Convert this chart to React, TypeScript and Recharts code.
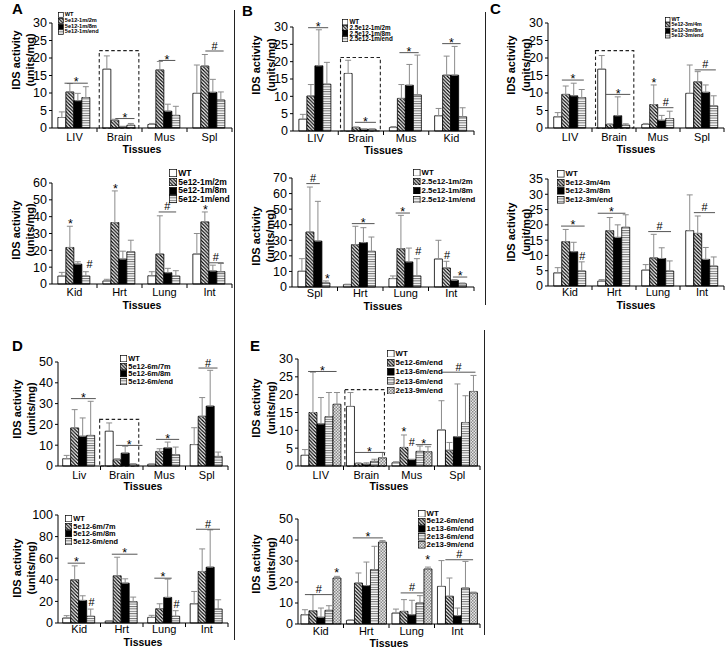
import React from 'react';
import { BarChart, Bar, XAxis, YAxis, ErrorBar, ReferenceLine, ReferenceArea, ReferenceDot, Legend } from 'recharts';

const FONT = 'Arial, "Liberation Sans", Helvetica, sans-serif';
const F_WT = '#ffffff';
const F_HATCH = 'url(#pHatch)';
const F_BLACK = '#000000';
const F_HS = 'url(#pHs)';
const F_CHK = 'url(#pChk)';
const FILLS4 = [F_WT, F_HATCH, F_BLACK, F_HS];
const FILLS5 = [F_WT, F_HATCH, F_BLACK, F_HS, F_CHK];

// ---------------- Panel A (top)
const A1_cats = ['LIV', 'Brain', 'Mus', 'Spl'];
const A1_names = ['WT', '5e12-1m/2m', '5e12-1m/8m', '5e12-1m/end'];
const A1_means = [[3.0, 16.8, 1.0, 9.9], [10.3, 2.2, 16.6, 17.7], [7.8, 0.3, 4.8, 10.2], [8.7, 0.8, 3.6, 8.0]];
const A1_errs = [[4.6, 20.6, 1.3, 18.0], [12.7, 2.5, 19.0, 21.0], [9.9, 0.5, 6.8, 13.9], [11.8, 1.3, 6.2, 10.3]];
const A1_ticks = [0, 5, 10, 15, 20, 25, 30];
const A1_sig = [[0, 0.8, 3.6, 12.8, '*', 1], [1, 1.5, 3.8, 2.7, '*', 1], [2, 1.3, 3.3, 19.3, '*', 1], [3, 1.5, 3.7, 22.0, '#', 1]];
const A1_box = [1, 0.05, 0.93, 22.1];

// ---------------- Panel A (bottom)
const A2_cats = ['Kid', 'Hrt', 'Lung', 'Int'];
const A2_names = ['WT', '5e12-1m/2m', '5e12-1m/8m', '5e12-1m/end'];
const A2_means = [[4.7, 1.8, 4.9, 17.8], [21.7, 36.5, 17.8, 36.9], [11.8, 14.8, 6.7, 7.7], [4.7, 19.1, 4.7, 7.3]];
const A2_errs = [[6.9, 2.8, 7.3, 30.0], [34.3, 55.3, 40.5, 42.8], [13.2, 19.5, 9.3, 11.2], [7.3, 26.0, 7.9, 12.2]];
const A2_ticks = [0, 10, 20, 30, 40, 50, 60];
const A2_sig = [[0, 1.5, 1.5, 35, '*', 0], [0, 3.8, 3.8, 8.4, '#', 0], [1, 1.5, 1.5, 56, '*', 0], [2, 1.3, 3.4, 42.8, '#', 1], [3, 1.5, 1.5, 43.5, '*', 0], [3, 1.8, 3.7, 12.6, '#', 1]];

// ---------------- Panel B (top)
const B1_cats = ['LIV', 'Brain', 'Mus', 'Kid'];
const B1_names = ['WT', '2.5e12-1m/2m', '2.5e12-1m/8m', '2.5e12-1m/end'];
const B1_means = [[3.4, 16.6, 1.0, 4.4], [10.1, 1.0, 9.4, 16.1], [18.8, 0.5, 13.2, 16.1], [13.5, 0.5, 10.4, 4.1]];
const B1_errs = [[4.8, 20.4, 1.3, 6.5], [13.4, 1.2, 13.4, 21.6], [29.2, 0.6, 19.2, 24.4], [19.8, 0.6, 21.9, 6.7]];
const B1_ticks = [0, 5, 10, 15, 20, 25, 30];
const B1_sig = [[0, 1.1, 3.5, 29.8, '*', 1], [1, 1.3, 3.8, 2.5, '*', 1], [2, 1.2, 3.5, 22.6, '*', 1], [3, 0.9, 3.1, 25.2, '*', 1]];
const B1_box = [1, 0.05, 0.93, 21.2];

// ---------------- Panel B (bottom)
const B2_cats = ['Spl', 'Hrt', 'Lung', 'Int'];
const B2_names = ['WT', '2.5e12-1m/2m', '2.5e12-1m/8m', '2.5e12-1m/end'];
const B2_means = [[10.1, 1.5, 5.4, 18.0], [35.3, 27.2, 24.6, 12.2], [29.5, 28.5, 16.1, 4.3], [2.6, 22.9, 7.1, 2.1]];
const B2_errs = [[18.2, 1.8, 7.1, 30.0], [64.2, 39.0, 46.0, 16.5], [55.0, 38.1, 25.0, 4.7], [3.9, 32.1, 18.2, 2.6]];
const B2_ticks = [0, 10, 20, 30, 40, 50, 60, 70];
const B2_sig = [[0, 1.0, 2.6, 66.4, '#', 1], [0, 3.5, 3.5, 4.9, '*', 0], [1, 1.0, 3.7, 40.7, '*', 1], [2, 0.8, 2.5, 47.5, '*', 1], [2, 3.5, 3.5, 19.5, '#', 0], [3, 1.5, 1.5, 16.8, '#', 0], [3, 2.2, 3.9, 6.4, '*', 1]];

// ---------------- Panel C (top)
const C1_cats = ['LIV', 'Brain', 'Mus', 'Spl'];
const C1_names = ['WT', '5e12-3m/4m', '5e12-3m/8m', '5e12-3m/end'];
const C1_means = [[3.2, 16.8, 1.0, 9.9], [9.6, 1.0, 6.7, 13.2], [9.2, 3.5, 2.2, 10.2], [8.7, 0.8, 2.7, 6.3]];
const C1_errs = [[4.4, 20.7, 1.3, 18.0], [12.0, 1.2, 12.3, 16.1], [12.8, 8.9, 3.6, 12.3], [11.0, 1.2, 4.8, 9.2]];
const C1_ticks = [0, 5, 10, 15, 20, 25, 30];
const C1_sig = [[0, 1.0, 3.7, 13.7, '*', 1], [1, 1.0, 4.0, 9.6, '*', 1], [2, 1.5, 1.5, 12.5, '*', 0], [2, 2.0, 3.9, 5.8, '#', 1], [3, 1.1, 3.7, 16.6, '#', 1]];
const C1_box = [1, 0.08, 0.95, 22.1];

// ---------------- Panel C (bottom)
const C2_cats = ['Kid', 'Hrt', 'Lung', 'Int'];
const C2_names = ['WT', '5e12-3m/4m', '5e12-3m/8m', '5e12-3m/end'];
const C2_means = [[4.3, 1.6, 5.2, 18.1], [14.5, 18.1, 9.2, 17.2], [11.2, 15.9, 9.0, 8.7], [4.9, 19.2, 4.9, 6.5]];
const C2_errs = [[6.0, 2.1, 7.0, 29.8], [18.5, 22.4, 16.9, 22.9], [14.3, 20.0, 12.5, 12.6], [7.9, 23.3, 8.2, 9.5]];
const C2_ticks = [0, 5, 10, 15, 20, 25, 30, 35];
const C2_sig = [[0, 0.9, 3.8, 19.6, '*', 1], [0, 3.5, 3.5, 8.1, '#', 0], [1, 0.0, 3.4, 23.8, '*', 1], [2, 0.8, 3.6, 17.8, '#', 1], [3, 1.0, 3.6, 24.0, '#', 1]];

// ---------------- Panel D (top)
const D1_cats = ['Liv', 'Brain', 'Mus', 'Spl'];
const D1_names = ['WT', '5e12-6m/7m', '5e12-6m/8m', '5e12-6m/end'];
const D1_means = [[3.5, 16.7, 0.8, 10.3], [18.3, 3.0, 7.0, 23.9], [14.3, 6.2, 8.7, 28.8], [14.7, 0.8, 5.4, 4.6]];
const D1_errs = [[5.1, 20.7, 1.0, 18.4], [27.1, 3.5, 8.3, 32.9], [23.1, 9.5, 11.5, 46.0], [31.1, 1.1, 9.1, 6.7]];
const D1_ticks = [0, 10, 20, 30, 40, 50];
const D1_sig = [[0, 1.0, 4.0, 32.4, '*', 1], [1, 1.3, 4.5, 9.9, '*', 1], [2, 1.0, 3.8, 12.8, '*', 1], [3, 1.0, 3.3, 47.1, '#', 1]];
const D1_box = [1, -0.02, 0.9, 22.4];

// ---------------- Panel D (bottom)
const D2_cats = ['Kid', 'Hrt', 'Lung', 'Int'];
const D2_names = ['WT', '5e12-6m/7m', '5e12-6m/8m', '5e12-6m/end'];
const D2_means = [[4.6, 1.8, 5.2, 17.8], [40.0, 43.7, 13.2, 47.7], [20.9, 36.9, 23.7, 51.7], [6.2, 19.7, 6.2, 12.9]];
const D2_errs = [[6.8, 2.2, 7.1, 29.2], [52.9, 60.9, 17.8, 68.6], [25.2, 40.9, 40.6, 86.2], [12.9, 24.0, 11.4, 21.5]];
const D2_ticks = [0, 20, 40, 60, 80, 100];
const D2_sig = [[0, 0.6, 2.7, 55.4, '*', 1], [0, 3.5, 3.5, 14, '#', 0], [1, 0.8, 3.9, 63.7, '*', 1], [2, 0.8, 2.9, 41.5, '*', 1], [2, 3.5, 3.5, 12.5, '#', 0], [3, 0.7, 3.6, 86.8, '#', 1]];

// ---------------- Panel E (top)
const E1_cats = ['LIV', 'Brain', 'Mus', 'Spl'];
const E1_names = ['WT', '5e12-6m/end', '1e13-6m/end', '2e13-6m/end', '2e13-9m/end'];
const E1_means = [[3.0, 16.7, 0.9, 10.1], [15.0, 0.7, 5.2, 4.4], [11.8, 0.5, 1.8, 8.2], [13.8, 1.3, 4.1, 12.2], [17.3, 2.3, 4.0, 20.9]];
const E1_errs = [[4.6, 20.6, 1.2, 18.3], [26.3, 0.9, 8.7, 6.6], [19.2, 0.9, 1.9, 23.0], [20.6, 1.9, 5.6, 19.7], [20.6, 3.8, 5.4, 25.4]];
const E1_ticks = [0, 5, 10, 15, 20, 25, 30];
const E1_sig = [[0, 0.9, 4.5, 26.5, '*', 1], [1, 1.0, 4.8, 3.8, '*', 1], [2, 1.5, 1.5, 9.2, '*', 0], [2, 2.5, 2.5, 5.2, '#', 0], [2, 3.0, 5.0, 6.0, '*', 1], [3, 0.5, 4.8, 26.3, '#', 1]];
const E1_box = [1, 0.03, 0.9, 21.4];

// ---------------- Panel E (bottom)
const E2_cats = ['Kid', 'Hrt', 'Lung', 'Int'];
const E2_names = ['WT', '5e12-6m/end', '1e13-6m/end', '2e13-6m/end', '2e13-9m/end'];
const E2_means = [[4.4, 1.7, 5.2, 17.9], [6.3, 19.5, 6.0, 13.2], [3.2, 18.3, 4.4, 4.0], [6.5, 25.9, 10.0, 17.1], [21.9, 39.0, 26.2, 14.8]];
const E2_errs = [[6.8, 2.0, 7.1, 30.2], [14.0, 24.3, 11.6, 21.9], [7.6, 29.5, 11.3, 7.6], [8.7, 37.0, 13.5, 29.8], [22.7, 39.7, 27.1, 15.2]];
const E2_ticks = [0, 10, 20, 30, 40, 50];
const E2_sig = [[0, 0.5, 4.0, 14, '#', 1], [0, 4.5, 4.5, 24, '*', 0], [1, 0.8, 4.6, 41, '*', 1], [2, 1.1, 4.0, 14.8, '#', 1], [2, 4.5, 4.5, 30, '*', 0], [3, 1.0, 4.5, 30.6, '#', 1]];

const UNITS = '(units/mg)';
const UNIT = '(unit/mg)';

const PANELS: any[] = [
  { cats: A1_cats, names: A1_names, means: A1_means, errs: A1_errs, ticks: A1_ticks, sig: A1_sig, box: A1_box, fills: FILLS4, gap: 0.13,
    left: 0, top: 0, w: 234, h: 155, x0: 52, x1: 232, y0: 23, y1: 128, tickDy: 9, tissDy: 20.5,
    leg: { x: 58, y: 12, fs: 5.6, lh: 5.8 }, yl: { x: 19.5, cy: 60, gap: 14, unit: UNITS } },
  { cats: A2_cats, names: A2_names, means: A2_means, errs: A2_errs, ticks: A2_ticks, sig: A2_sig, box: null, fills: FILLS4, gap: 0.13,
    left: 0, top: 158, w: 234, h: 152, x0: 52, x1: 232, y0: 183, y1: 284, tickDy: 8, tissDy: 20.5,
    leg: { x: 169, y: 169, fs: 8.5, lh: 8.7 }, yl: { x: 20, cy: 230, gap: 14, unit: UNITS } },
  { cats: B1_cats, names: B1_names, means: B1_means, errs: B1_errs, ticks: B1_ticks, sig: B1_sig, box: B1_box, fills: FILLS4, gap: 0.13,
    left: 238, top: 0, w: 238, h: 155, x0: 293, x1: 474, y0: 27, y1: 131, tickDy: 7, tissDy: 18.5,
    leg: { x: 342, y: 19, fs: 6.3, lh: 5.8 }, yl: { x: 259.5, cy: 65, gap: 15, unit: UNITS } },
  { cats: B2_cats, names: B2_names, means: B2_means, errs: B2_errs, ticks: B2_ticks, sig: B2_sig, box: null, fills: FILLS4, gap: 0.13,
    left: 238, top: 158, w: 238, h: 152, x0: 292, x1: 474, y0: 178, y1: 287, tickDy: 5.5, tissDy: 18.5,
    leg: { x: 413, y: 168, fs: 7.8, lh: 9 }, yl: { x: 259.5, cy: 236, gap: 14, unit: UNITS } },
  { cats: C1_cats, names: C1_names, means: C1_means, errs: C1_errs, ticks: C1_ticks, sig: C1_sig, box: C1_box, fills: FILLS4, gap: 0.13,
    left: 488, top: 0, w: 238, h: 155, x0: 548, x1: 724, y0: 23, y1: 128, tickDy: 9, tissDy: 21,
    leg: { x: 665, y: 16.5, fs: 5.3, lh: 5.6 }, yl: { x: 514.5, cy: 65, gap: 15, unit: UNITS } },
  { cats: C2_cats, names: C2_names, means: C2_means, errs: C2_errs, ticks: C2_ticks, sig: C2_sig, box: null, fills: FILLS4, gap: 0.13,
    left: 488, top: 158, w: 238, h: 152, x0: 548, x1: 724, y0: 179, y1: 286, tickDy: 6, tissDy: 19,
    leg: { x: 557, y: 170, fs: 7.8, lh: 8.5 }, yl: { x: 514.5, cy: 232, gap: 15, unit: UNIT } },
  { cats: D1_cats, names: D1_names, means: D1_means, errs: D1_errs, ticks: D1_ticks, sig: D1_sig, box: D1_box, fills: FILLS4, gap: 0.11,
    left: 0, top: 330, w: 234, h: 166, x0: 58, x1: 228, y0: 362, y1: 466, tickDy: 8.5, tissDy: 20,
    leg: { x: 120, y: 355, fs: 7.4, lh: 7.6 }, yl: { x: 21, cy: 409, gap: 13.5, unit: UNITS } },
  { cats: D2_cats, names: D2_names, means: D2_means, errs: D2_errs, ticks: D2_ticks, sig: D2_sig, box: null, fills: FILLS4, gap: 0.11,
    left: 0, top: 498, w: 234, h: 150, x0: 58, x1: 228, y0: 515, y1: 623, tickDy: 6, tissDy: 18.5,
    leg: { x: 65, y: 515, fs: 7.4, lh: 7.6 }, yl: { x: 21, cy: 568, gap: 13.5, unit: UNITS } },
  { cats: E1_cats, names: E1_names, means: E1_means, errs: E1_errs, ticks: E1_ticks, sig: E1_sig, box: E1_box, fills: FILLS5, gap: 0.065,
    left: 238, top: 330, w: 246, h: 166, x0: 298, x1: 480, y0: 359, y1: 466, tickDy: 8.5, tissDy: 20,
    leg: { x: 387, y: 349, fs: 7.8, lh: 9.2 }, yl: { x: 260, cy: 408, gap: 14.5, unit: UNITS } },
  { cats: E2_cats, names: E2_names, means: E2_means, errs: E2_errs, ticks: E2_ticks, sig: E2_sig, box: null, fills: FILLS5, gap: 0.065,
    left: 238, top: 498, w: 246, h: 150, x0: 298, x1: 480, y0: 519, y1: 624, tickDy: 6.5, tissDy: 18.5,
    leg: { x: 418, y: 509.5, fs: 7.8, lh: 7.9 }, yl: { x: 260, cy: 564, gap: 14.5, unit: UNITS } },
];

const LETTERS = [
  { t: 'A', x: 12, y: 1 }, { t: 'B', x: 242, y: 3 }, { t: 'C', x: 490, y: 1 },
  { t: 'D', x: 12, y: 338 }, { t: 'E', x: 250, y: 338 },
];

function CatTick(p: any) {
  const { x, y, payload, band, dy } = p;
  return (
    <g>
      <text x={x} y={y + dy} textAnchor="middle" dominantBaseline="central" fontSize={11} fontFamily={FONT} fill="#000">{payload.value}</text>
      <line x1={x + band / 2} x2={x + band / 2} y1={y} y2={y + 4} stroke="#000" strokeWidth={1} />
    </g>
  );
}

function Panel({ cfg }: { cfg: any }) {
  const n = cfg.names.length;
  const nc = cfg.cats.length;
  const gap = cfg.gap;
  const data = cfg.cats.map((c: string, i: number) => {
    const row: any = { cat: c, idx: i + 0.5 };
    cfg.means.forEach((m: number[], s: number) => {
      row['v' + s] = m[i];
      row['e' + s] = [0, Math.max(0, cfg.errs[s][i] - m[i])];
    });
    return row;
  });
  const sx = (c: number, s: number) => c + gap + (s * (1 - 2 * gap)) / n;
  const mTop = cfg.y0 - cfg.top;
  const mRight = cfg.left + cfg.w - cfg.x1;
  const yw = cfg.x0 - cfg.left;
  const xh = cfg.top + cfg.h - cfg.y1;
  const band = (cfg.x1 - cfg.x0) / nc;
  const ymax = cfg.ticks[cfg.ticks.length - 1];
  const ylx = cfg.yl.x - cfg.left;
  const ycy = cfg.yl.cy - cfg.top;

  const legendContent = (props: any) => {
    const items = [...(props.payload || [])].sort(
      (a: any, b: any) => cfg.names.indexOf(a.value) - cfg.names.indexOf(b.value)
    );
    const sq = Math.round(cfg.leg.fs * 0.85 * 10) / 10;
    return (
      <div style={{ fontFamily: FONT, fontWeight: 'bold', fontSize: cfg.leg.fs, lineHeight: cfg.leg.lh + 'px', color: '#000' }}>
        {items.map((it: any, i: number) => (
          <div key={i} style={{ display: 'flex', alignItems: 'center', height: cfg.leg.lh, whiteSpace: 'nowrap' }}>
            <svg width={sq + 1} height={sq + 1} style={{ marginRight: 1, flex: 'none' }}>
              <rect x={0.5} y={0.5} width={sq} height={sq} fill={it.color || (it.payload && it.payload.fill)} stroke="#000" strokeWidth={0.7} />
            </svg>
            <span>{it.value}</span>
          </div>
        ))}
      </div>
    );
  };

  const refs: any[] = [];
  if (cfg.box) {
    const [c, a, b, top] = cfg.box;
    refs.push(
      <ReferenceArea key="box" xAxisId="n" x1={c + a} x2={c + b} y1={0} y2={top} fill="none" fillOpacity={0}
        stroke="#222" strokeWidth={1.1} strokeDasharray="3.5 2.5" ifOverflow="visible" />
    );
  }
  cfg.sig.forEach((sg: any[], k: number) => {
    const [c, a, b, v, sym, ln] = sg;
    if (ln) {
      refs.push(
        <ReferenceLine key={'l' + k} xAxisId="n" segment={[{ x: sx(c, a), y: v }, { x: sx(c, b), y: v }]}
          stroke="#555" strokeWidth={1} ifOverflow="visible" />
      );
    }
    refs.push(
      <ReferenceDot key={'d' + k} xAxisId="n" x={sx(c, (a + b) / 2)} y={v} r={0} ifOverflow="visible"
        shape={(p: any) => (
          <text x={p.cx} y={p.cy + (sym === '*' ? 3.2 : -1.5)} textAnchor="middle" fontSize={sym === '*' ? 12.5 : 11}
            fontFamily={FONT} fill="#000">{sym}</text>
        )} />
    );
  });

  return (
    <div style={{ position: 'absolute', left: cfg.left, top: cfg.top }}>
      <BarChart width={cfg.w} height={cfg.h} data={data} margin={{ top: mTop, right: mRight, bottom: 0, left: 0 }}
        barCategoryGap={`${gap * 100}%`} barGap={0}>
        <XAxis xAxisId="c" dataKey="cat" height={xh} tickLine={false} tickSize={0} tickMargin={0} interval={0}
          axisLine={{ stroke: '#000', strokeWidth: 1 }}
          tick={(p: any) => <CatTick {...p} band={band} dy={cfg.tickDy} />}
          label={(p: any) => {
            const vb = p.viewBox || { x: cfg.x0 - cfg.left, y: cfg.y1 - cfg.top, width: cfg.x1 - cfg.x0 };
            return (
              <text x={vb.x + vb.width / 2} y={vb.y + cfg.tissDy} textAnchor="middle" dominantBaseline="central"
                fontSize={10.5} fontWeight="bold" fontFamily={FONT} fill="#000">Tissues</text>
            );
          }} />
        <XAxis xAxisId="n" type="number" dataKey="idx" domain={[0, nc]} allowDataOverflow hide />
        <YAxis width={yw} domain={[0, ymax]} ticks={cfg.ticks} interval={0} tickSize={3} tickMargin={2}
          axisLine={{ stroke: '#000', strokeWidth: 1 }} tickLine={{ stroke: '#000' }}
          tick={{ fontSize: 12.5, fill: '#000', fontFamily: FONT }}
          label={() => (
            <text transform={`translate(${ylx},${ycy}) rotate(-90)`} textAnchor="middle" fontSize={11}
              fontWeight="bold" fontFamily={FONT} fill="#000">
              <tspan x={0} y={0}>IDS activity</tspan>
              <tspan x={0} y={cfg.yl.gap}>{cfg.yl.unit}</tspan>
            </text>
          )} />
        {cfg.names.map((nm: string, s: number) => (
          <Bar key={s} xAxisId="c" dataKey={'v' + s} name={nm} fill={cfg.fills[s]} stroke="#000" strokeWidth={0.8}
            isAnimationActive={false}>
            <ErrorBar dataKey={'e' + s} width={3} stroke="#8c8c8c" strokeWidth={1} direction="y" isAnimationActive={false} />
          </Bar>
        ))}
        {refs}
        <Legend layout="vertical" align="center" verticalAlign="middle" content={legendContent}
          wrapperStyle={{ left: cfg.leg.x - cfg.left, top: cfg.leg.y - cfg.top, width: 'auto', height: 'auto' }} />
      </BarChart>
    </div>
  );
}

export default function App() {
  return (
    <div style={{ position: 'absolute', left: 0, top: 0, width: 726, height: 648, background: '#fff', fontFamily: FONT, overflow: 'hidden' }}>
      <svg width={0} height={0} style={{ position: 'absolute' }}>
        <defs>
          <pattern id="pHatch" patternUnits="userSpaceOnUse" width={3.5} height={3.5}>
            <rect width={3.5} height={3.5} fill="#fff" />
            <path d="M0,0 L3.5,3.5 M-1,2.5 L1,4.5 M2.5,-1 L4.5,1" stroke="#000" strokeWidth={1.2} />
          </pattern>
          <pattern id="pHs" patternUnits="userSpaceOnUse" width={4} height={2.4}>
            <rect width={4} height={2.4} fill="#fff" />
            <rect y={0} width={4} height={1} fill="#6e6e6e" />
          </pattern>
          <pattern id="pChk" patternUnits="userSpaceOnUse" width={3} height={3}>
            <rect width={3} height={3} fill="#e6e6e6" />
            <rect x={0} y={0} width={1.5} height={1.5} fill="#8a8a8a" />
            <rect x={1.5} y={1.5} width={1.5} height={1.5} fill="#8a8a8a" />
          </pattern>
        </defs>
      </svg>
      {PANELS.map((cfg, i) => <Panel key={i} cfg={cfg} />)}
      {LETTERS.map((l) => (
        <div key={l.t} style={{ position: 'absolute', left: l.x, top: l.y, fontSize: 15, fontWeight: 'bold', lineHeight: '16px', color: '#000' }}>{l.t}</div>
      ))}
      <div style={{ position: 'absolute', left: 234, top: 10, width: 0, height: 630, borderLeft: '1.5px solid #222' }} />
      <div style={{ position: 'absolute', left: 485, top: 12, width: 0, height: 293, borderLeft: '1.5px solid #222' }} />
      <div style={{ position: 'absolute', left: 484, top: 330, width: 0, height: 305, borderLeft: '1.5px solid #222' }} />
    </div>
  );
}
